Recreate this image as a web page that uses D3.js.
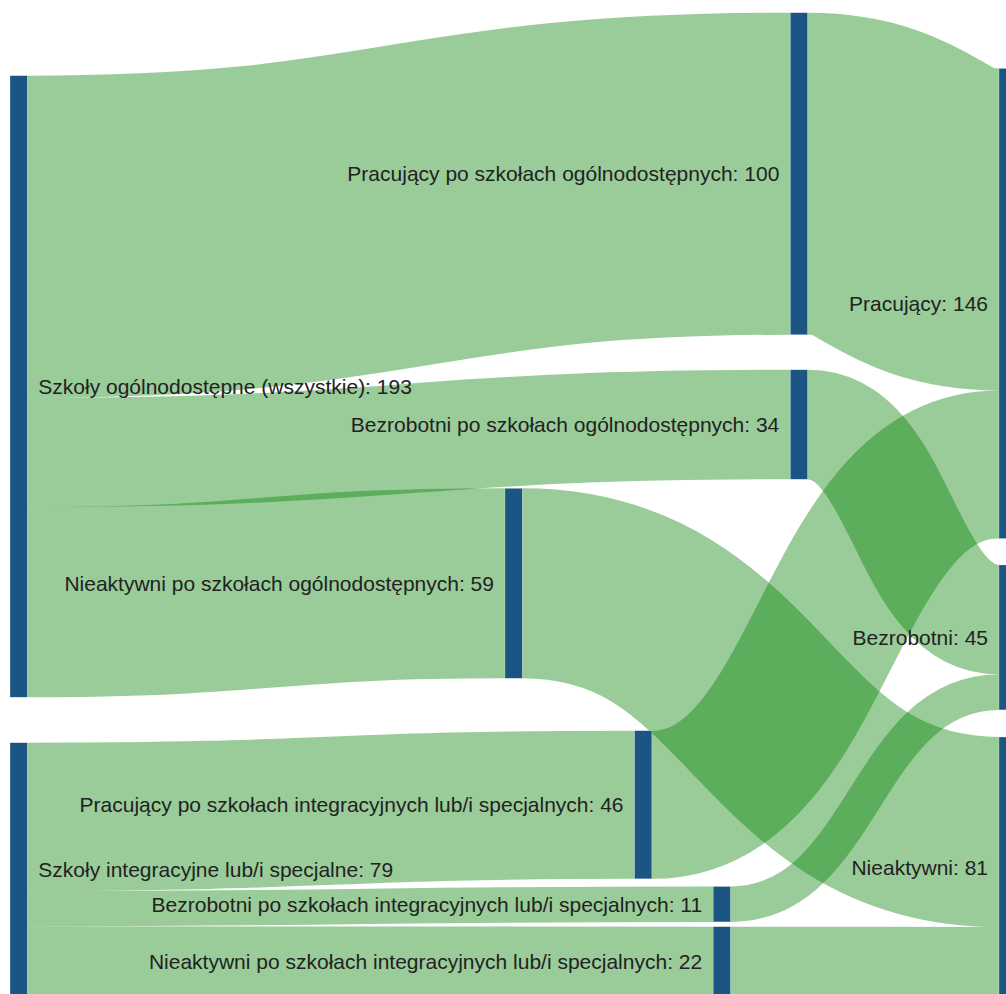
<!DOCTYPE html>
<html>
<head>
<meta charset="utf-8">
<script src="https://cdn.jsdelivr.net/npm/d3@7"></script>
<style>
  html, body { margin: 0; padding: 0; background: #fff; overflow: hidden; }
  svg { display: block; }
</style>
</head>
<body>
<svg id="chart" width="1006" height="994"></svg>
<script>
// ---- Data ----
const nodeNames = [
  "Szkoły ogólnodostępne (wszystkie)",
  "Szkoły integracyjne lub/i specjalne",
  "Pracujący po szkołach ogólnodostępnych",
  "Bezrobotni po szkołach ogólnodostępnych",
  "Nieaktywni po szkołach ogólnodostępnych",
  "Pracujący po szkołach integracyjnych lub/i specjalnych",
  "Bezrobotni po szkołach integracyjnych lub/i specjalnych",
  "Nieaktywni po szkołach integracyjnych lub/i specjalnych",
  "Pracujący",
  "Bezrobotni",
  "Nieaktywni"
];
const linkSource = [0, 0, 0, 1, 1, 1, 2, 3, 4, 5, 6, 7];
const linkTarget = [2, 3, 4, 5, 6, 7, 8, 9, 10, 8, 9, 10];
const linkValue  = [100, 34, 59, 46, 11, 22, 100, 34, 59, 46, 11, 22];

// ---- Node arrangement (normalised, like a sankey's freeform node.x / node.y) ----
const nodeLayoutX = [0, 0, 0.789, 0.789, 0.5005, 0.6315, 0.711, 0.711, 1, 1, 1];
const nodeLayoutY = [0.0639, 0.7409, 0, 0.3624, 0.4827, 0.7287, 0.8868, 0.9276, 0.0565, 0.5605, 0.7351];

// ---- Styles ----
const nodeColor = "#1b5584";
const linkColor = "rgba(0,128,0,0.4)";
const textColor = "#222";
const fontFamily = "'Liberation Sans', Arial, Helvetica, sans-serif";
const fontSize = 21;
const nodeWidth = 17.3;
const labelPad = 11;

const svg = d3.select("#chart");
const W = 1006;

const xScale = d3.scaleLinear().domain([0, 1]).range([10, 999]);
const yScale = d3.scaleLinear().domain([0, 1]).range([12.7, 998]);
const totalFlow = d3.sum(linkSource.map((s, i) => nodeLayoutX[s] === 0 ? linkValue[i] : 0));
const hScale = d3.scaleLinear().domain([0, totalFlow]).range([0, 876]);

// Build nodes
const nodes = nodeNames.map((name, i) => ({
  index: i, name,
  sourceLinks: [], targetLinks: []
}));
const links = linkSource.map((s, i) => ({
  source: nodes[s], target: nodes[linkTarget[i]], value: linkValue[i]
}));
links.forEach(l => {
  l.width = hScale(l.value);
  l.source.sourceLinks.push(l);
  l.target.targetLinks.push(l);
});
nodes.forEach(n => {
  n.value = Math.max(d3.sum(n.sourceLinks, l => l.value), d3.sum(n.targetLinks, l => l.value));
  n.x0 = xScale(nodeLayoutX[n.index]);
  n.x1 = n.x0 + nodeWidth;
  n.y0 = yScale(nodeLayoutY[n.index]);
  n.y1 = n.y0 + hScale(n.value);
});
// link centre positions at both ends
nodes.forEach(n => {
  let y = n.y0;
  n.sourceLinks.slice().sort((a, b) => a.target.y0 - b.target.y0).forEach(l => {
    l.y0 = y + l.width / 2; y += l.width;
  });
  y = n.y0;
  n.targetLinks.slice().sort((a, b) => a.source.y0 - b.source.y0).forEach(l => {
    l.y1 = y + l.width / 2; y += l.width;
  });
});

const linkGen = d3.linkHorizontal()
  .source(d => [d.source.x1, d.y0])
  .target(d => [d.target.x0, d.y1]);

svg.append("g")
  .attr("fill", "none")
  .selectAll("path")
  .data(links)
  .join("path")
  .attr("d", linkGen)
  .attr("stroke", linkColor)
  .attr("stroke-width", d => d.width);

svg.append("g")
  .selectAll("rect")
  .data(nodes)
  .join("rect")
  .attr("x", d => d.x0)
  .attr("y", d => d.y0)
  .attr("width", d => d.x1 - d.x0)
  .attr("height", d => d.y1 - d.y0)
  .attr("fill", nodeColor)
  .attr("stroke", "rgba(255,255,255,0.5)")
  .attr("stroke-width", 0.5);

svg.append("g")
  .selectAll("text")
  .data(nodes)
  .join("text")
  .attr("x", d => (d.x0 + d.x1) / 2 < W / 2 ? d.x1 + labelPad : d.x0 - labelPad)
  .attr("y", d => (d.y0 + d.y1) / 2)
  .attr("dy", "0.35em")
  .attr("text-anchor", d => (d.x0 + d.x1) / 2 < W / 2 ? "start" : "end")
  .attr("font-family", fontFamily)
  .attr("font-size", fontSize)
  .attr("fill", textColor)
  .text(d => `${d.name}: ${d.value}`);
</script>
</body>
</html>
